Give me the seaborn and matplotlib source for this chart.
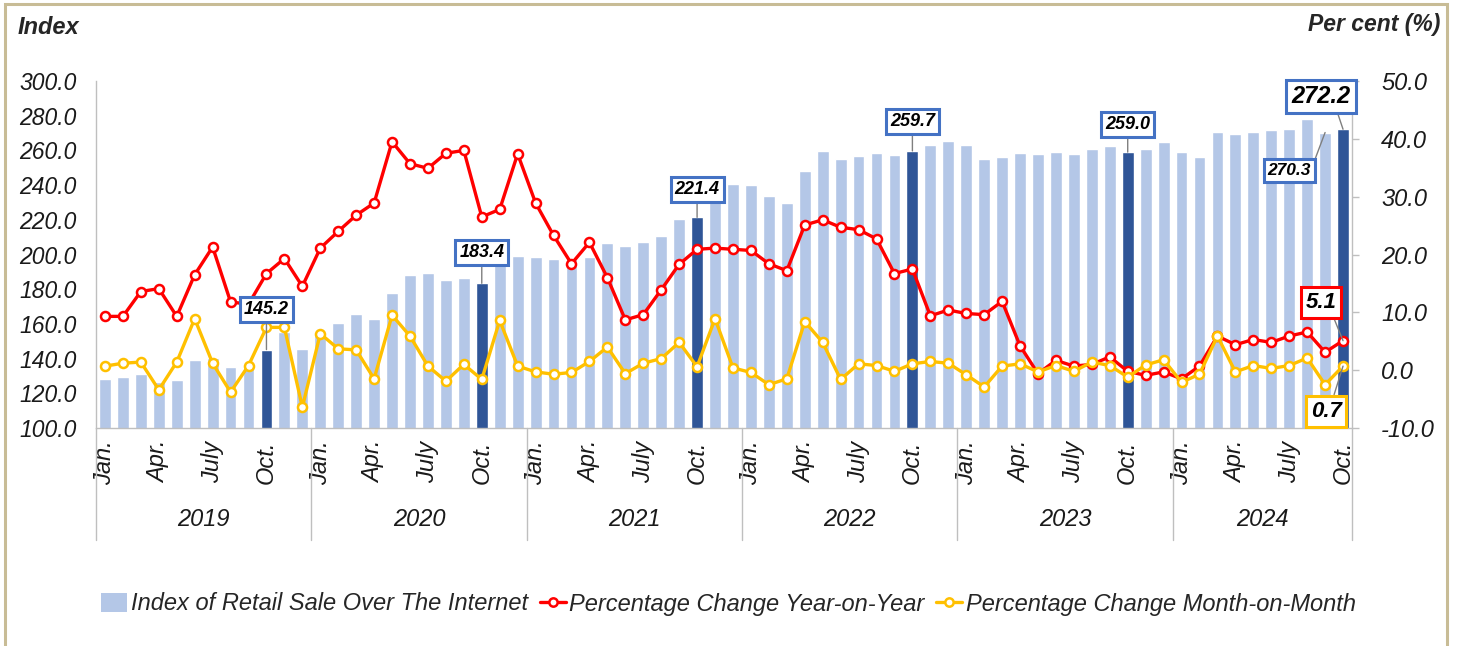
import numpy as np
import pandas as pd
import matplotlib
matplotlib.use("Agg")
import matplotlib.pyplot as plt
from matplotlib.patches import Patch, Rectangle
from matplotlib.lines import Line2D
import matplotlib.transforms as mtransforms
import seaborn as sns

# ---------------- data ----------------
years = ["2019", "2020", "2021", "2022", "2023", "2024"]
month_tick_labels = ["Jan.", "Apr.", "July", "Oct."]

index_2019 = [128.1, 129.2, 131.1, 126.5, 127.7, 139.0, 140.3, 135.1, 135.7, 145.2, 155.5, 145.3]
index_2020 = [154.2, 160.3, 165.7, 162.8, 178.0, 188.2, 189.1, 185.3, 186.7, 183.4, 199.7, 199.1]
index_2021 = [198.8, 197.4, 198.0, 198.8, 206.4, 204.9, 207.0, 210.7, 220.5, 221.4, 241.0, 240.5]
index_2022 = [239.9, 233.5, 229.5, 248.3, 259.5, 254.9, 256.8, 258.5, 257.3, 259.7, 263.1, 265.6]
index_2023 = [262.9, 255.0, 256.3, 258.5, 257.7, 258.9, 257.9, 261.0, 262.5, 259.0, 260.6, 265.0]
index_2024 = [258.9, 256.4, 270.7, 269.6, 270.8, 271.6, 272.5, 277.9, 270.3, 272.2]

yoy_2019 = [9.3, 9.3, 13.6, 14.1, 9.3, 16.5, 21.3, 11.8, 11.4, 16.7, 19.3, 14.5]
yoy_2020 = [21.1, 24.0, 26.8, 28.9, 39.5, 35.7, 34.9, 37.5, 38.0, 26.5, 27.8, 37.4]
yoy_2021 = [28.9, 23.3, 18.4, 22.1, 16.0, 8.7, 9.6, 13.9, 18.3, 20.9, 21.1, 20.9]
yoy_2022 = [20.7, 18.4, 17.2, 25.1, 26.0, 24.7, 24.3, 22.7, 16.7, 17.5, 9.4, 10.4]
yoy_2023 = [9.8, 9.6, 11.9, 4.2, -0.6, 1.7, 0.7, 1.0, 2.3, -0.2, -0.9, -0.3]
yoy_2024 = [-1.5, 0.7, 5.9, 4.4, 5.3, 4.8, 5.9, 6.6, 3.1, 5.1]

mom_2019 = [0.7, 1.2, 1.4, -3.4, 1.4, 8.9, 1.2, -3.8, 0.8, 7.4, 7.4, -6.4]
mom_2020 = [6.3, 3.7, 3.5, -1.5, 9.5, 5.9, 0.7, -1.9, 1.0, -1.6, 8.6, 0.7]
mom_2021 = [-0.3, -0.7, -0.4, 1.5, 4.0, -0.6, 1.2, 2.0, 4.8, 0.6, 8.9, 0.4]
mom_2022 = [-0.4, -2.5, -1.5, 8.4, 4.8, -1.6, 1.1, 0.8, -0.2, 1.1, 1.5, 1.2]
mom_2023 = [-0.8, -2.9, 0.7, 1.1, -0.3, 0.8, -0.2, 1.4, 0.8, -1.2, 0.9, 1.8]
mom_2024 = [-2.1, -0.7, 5.9, -0.3, 0.8, 0.3, 0.8, 2.1, -2.5, 0.7]

index_vals = index_2019 + index_2020 + index_2021 + index_2022 + index_2023 + index_2024
yoy_vals = yoy_2019 + yoy_2020 + yoy_2021 + yoy_2022 + yoy_2023 + yoy_2024
mom_vals = mom_2019 + mom_2020 + mom_2021 + mom_2022 + mom_2023 + mom_2024

legend_labels = ["Index of Retail Sale Over The Internet",
                 "Percentage Change Year-on-Year",
                 "Percentage Change Month-on-Month"]

# ---------------- styling ----------------
LIGHT = "#B4C7E7"
DARK = "#2F5597"
RED = "#FF0000"
YEL = "#FFC000"
BOXBLUE = "#4472C4"
GRAY = "#BFBFBF"
TXT = "#1a1a1a"

sns.set_theme(style="white")
plt.rcParams["font.family"] = ["Liberation Sans", "DejaVu Sans"]

n = len(index_vals)
keys = []
for y in years:
    for m in range(12):
        keys.append(f"{y}-{m+1:02d}")
keys = keys[:n]
pos = np.arange(n)
df = pd.DataFrame({"key": keys, "pos": pos, "index": index_vals,
                   "yoy": yoy_vals, "mom": mom_vals})
colors = {k: (DARK if int(k[-2:]) == 10 else LIGHT) for k in keys}

W, H = 1457, 646
fig = plt.figure(figsize=(W / 100, H / 100), dpi=100)
ax = fig.add_axes([96 / W, (H - 428) / H, (1352 - 96) / W, (428 - 81) / H])

sns.barplot(data=df, x="key", y="index", hue="key", palette=colors,
            legend=False, width=0.66, saturation=1, ax=ax, zorder=1)

ax2 = ax.twinx()
sns.lineplot(data=df, x="pos", y="yoy", ax=ax2, color=RED, lw=2.4,
             marker="o", markersize=6.5, markerfacecolor="white",
             markeredgecolor=RED, markeredgewidth=1.8, zorder=3)
sns.lineplot(data=df, x="pos", y="mom", ax=ax2, color=YEL, lw=2.4,
             marker="o", markersize=6.5, markerfacecolor="white",
             markeredgecolor=YEL, markeredgewidth=1.8, zorder=3)

ax.set_xlim(-0.5, n - 0.5)
ax.set_ylim(100, 300)
ax2.set_ylim(-10, 50)

lt = np.arange(100, 301, 20)
ax.set_yticks(lt)
ax.set_yticklabels([f"{v:.1f}" for v in lt], fontstyle="italic", fontsize=16.5, color=TXT)
rt = np.arange(-10, 51, 10)
ax2.set_yticks(rt)
ax2.set_yticklabels([f"{v:.1f}" for v in rt], fontstyle="italic", fontsize=17, color=TXT)

ax.set_xlabel("")
ax.set_ylabel("")
ax2.set_xlabel("")
ax2.set_ylabel("")

tick_pos = [i for i in range(n) if i % 3 == 0]
ax.set_xticks(tick_pos)
ax.set_xticklabels([month_tick_labels[(i % 12) // 3] for i in tick_pos],
                   rotation=90, fontstyle="italic", fontsize=17, color=TXT)
ax.tick_params(axis="x", length=0, pad=9)
ax.tick_params(axis="y", length=0, pad=14)
ax2.tick_params(axis="y", direction="out", length=5, width=1, color=GRAY, pad=16)
ax2.tick_params(axis="x", length=0)

for s in ["top", "right"]:
    ax.spines[s].set_visible(False)
for s in ["top", "left", "bottom"]:
    ax2.spines[s].set_visible(False)
ax.spines["left"].set_color(GRAY)
ax.spines["bottom"].set_color(GRAY)
ax2.spines["right"].set_color(GRAY)
for s in ["left", "bottom"]:
    ax.spines[s].set_linewidth(1)
ax2.spines["right"].set_linewidth(1)

# year group separators and labels
trans = mtransforms.blended_transform_factory(ax.transData, ax.transAxes)
axes_h = 428 - 81
sep_bottom = -(540 - 428) / axes_h
bounds = [-0.5] + [12 * (k + 1) - 0.5 for k in range(len(years) - 1)] + [n - 0.5]
for b in bounds:
    ax.plot([b, b], [0, sep_bottom], transform=trans, color=GRAY, lw=1, clip_on=False)
year_y = -(520 - 428) / axes_h
for k, y in enumerate(years):
    c = (bounds[k] + bounds[k + 1]) / 2
    ax.text(c, year_y, y, transform=trans, ha="center", va="center",
            fontstyle="italic", fontsize=17, color=TXT)

# axis titles
fig.text(18 / W, 1 - 27 / H, "Index", ha="left", va="center", fontsize=17,
         fontweight="bold", fontstyle="italic")
fig.text(1440 / W, 1 - 25 / H, "Per cent (%)", ha="right", va="center", fontsize=16.5,
         fontweight="bold", fontstyle="italic")

# annotations
def annot(target_ax, x, y, text, dx, dy, fs, edge, relpos=(0.5, 0.5)):
    target_ax.annotate(text, xy=(x, y), xycoords=target_ax.transData,
                       xytext=(dx, dy), textcoords="offset pixels",
                       ha="center", va="center", fontsize=fs,
                       fontweight="bold", fontstyle="italic", color="black",
                       bbox=dict(boxstyle="square,pad=0.22", fc="white", ec=edge, lw=2.2),
                       arrowprops=dict(arrowstyle="-", color="#7F7F7F", lw=1,
                                       shrinkA=0, shrinkB=0, relpos=relpos),
                       zorder=10, annotation_clip=False)

bar_annots = [(9, 0, 40, 13, (0.5, 0.5)), (21, 0, 31, 13, (0.5, 0.5)),
              (33, 0, 28, 13, (0.5, 0.5)), (45, 0, 29, 13, (0.5, 0.5)),
              (57, 0, 28, 13, (0.5, 0.5)), (69, -22, 33, 17, (0.75, 0.0)),
              (68, -36, -38, 12.5, (1.0, 0.5))]
for i, dx, dy, fs, rp in bar_annots:
    v = index_vals[i]
    yy = ax2.transData.inverted().transform(ax.transData.transform((i, v)))[1]
    annot(ax2, i, yy, f"{v:.1f}", dx, dy, fs, BOXBLUE, rp)

annot(ax2, n - 1, yoy_vals[-1], f"{yoy_vals[-1]:.1f}", -22, 38, 16, RED, (0.85, 0.0))
annot(ax2, n - 1, mom_vals[-1], f"{mom_vals[-1]:.1f}", -17, -45, 16, YEL, (0.7, 1.0))

# legend
handles = [Patch(facecolor=LIGHT, edgecolor="none"),
           Line2D([], [], color=RED, lw=2.4, marker="o", markersize=6,
                  markerfacecolor="white", markeredgecolor=RED, markeredgewidth=1.8),
           Line2D([], [], color=YEL, lw=2.4, marker="o", markersize=6,
                  markerfacecolor="white", markeredgecolor=YEL, markeredgewidth=1.8)]
fig.legend(handles, legend_labels, loc="center", bbox_to_anchor=(0.5, 1 - 604 / H),
           ncol=3, frameon=False, prop=dict(style="italic", size=17),
           handlelength=1.1, handleheight=0.9, handletextpad=0.15, columnspacing=0.5)

# outer frame
fig.add_artist(Rectangle((5 / W, -0.1), (1447 - 5) / W, 1.1 - 4 / H,
                         transform=fig.transFigure, fill=False,
                         edgecolor="#C8BC96", lw=2.2, clip_on=False))

fig.savefig("out.png", dpi=100)
